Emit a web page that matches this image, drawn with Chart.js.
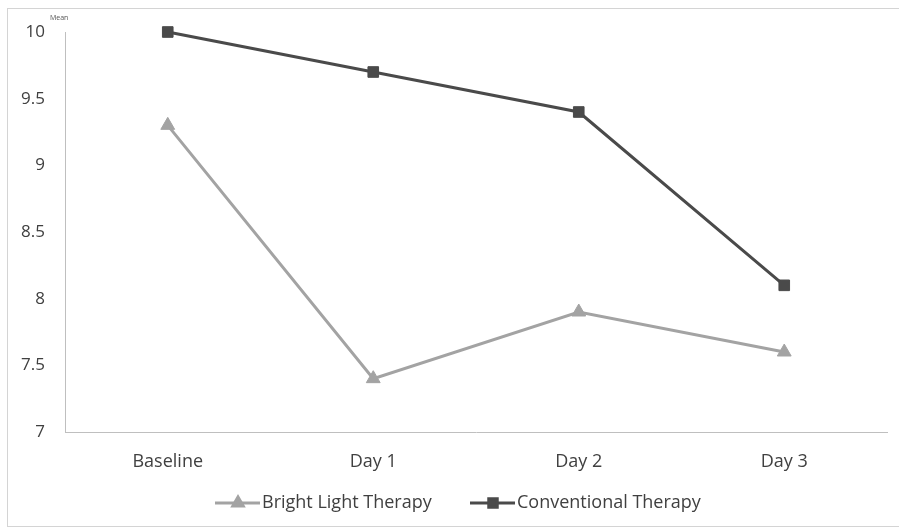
<!DOCTYPE html>
<html>
<head>
<meta charset="utf-8">
<script src="https://cdn.jsdelivr.net/npm/chart.js@4"></script>
<style>
  html, body { margin: 0; padding: 0; background: #fff; overflow: hidden; }
  #wrap { position: relative; width: 899px; height: 531px; overflow: hidden; }
  #frame { position: absolute; left: 7px; top: 8px; width: 900px; height: 519px; border: 1px solid #d4d4d4; box-sizing: border-box; pointer-events: none; }
</style>
</head>
<body>
<div id="wrap">
  <canvas id="chart" width="899" height="531"></canvas>
  <div id="frame"></div>
</div>
<script>
var categories = ['Baseline', 'Day 1', 'Day 2', 'Day 3'];
var brightLight = [9.3, 7.4, 7.9, 7.6];
var conventional = [10.0, 9.7, 9.4, 8.1];
var yTicks = [7, 7.5, 8, 8.5, 9, 9.5, 10];

var fontFamily = "'Open Sans', 'Liberation Sans', sans-serif";
var textColor = '#404040';

// legend drawn under the axis: short line with the marker in it, like the original
var bottomLegend = {
    id: 'bottomLegend',
    afterDraw: function (chart) {
        var ctx = chart.ctx;
        var items = [
            { x: 215, ds: chart.data.datasets[0] },
            { x: 470, ds: chart.data.datasets[1] }
        ];
        var y = 503;
        ctx.save();
        items.forEach(function (it) {
            ctx.strokeStyle = it.ds.borderColor;
            ctx.lineWidth = 3;
            ctx.beginPath();
            ctx.moveTo(it.x, y);
            ctx.lineTo(it.x + 45, y);
            ctx.stroke();
            ctx.fillStyle = it.ds.borderColor;
            Chart.helpers.drawPoint(ctx, {
                pointStyle: it.ds.pointStyle,
                radius: 6,
                borderWidth: 1
            }, it.x + 23, y);
            ctx.fillStyle = textColor;
            ctx.font = '18px ' + fontFamily;
            ctx.textBaseline = 'middle';
            ctx.fillText(it.ds.label, it.x + 47, y);
        });
        // small axis caption above the y axis
        ctx.font = '7px ' + fontFamily;
        ctx.fillStyle = '#555';
        ctx.fillText('Mean', 50, 18);
        ctx.restore();
    }
};

var ctx = document.getElementById('chart').getContext('2d');
var myChart = new Chart(ctx, {
    type: 'line',
    data: {
        labels: categories,
        datasets: [
            {
                label: 'Bright Light Therapy',
                data: brightLight,
                borderColor: '#a3a3a3',
                backgroundColor: '#a3a3a3',
                borderWidth: 3,
                pointStyle: 'triangle',
                pointRadius: 8,
                pointBorderWidth: 1,
                tension: 0,
                clip: false
            },
            {
                label: 'Conventional Therapy',
                data: conventional,
                borderColor: '#4a4a4a',
                backgroundColor: '#4a4a4a',
                borderWidth: 3,
                pointStyle: 'rect',
                pointRadius: 7.5,
                pointBorderWidth: 1,
                tension: 0,
                clip: false
            }
        ]
    },
    options: {
        responsive: false,
        animation: false,
        layout: {
            padding: { top: 32, right: 12, bottom: 0, left: 0 }
        },
        plugins: {
            legend: { display: false },
            tooltip: { enabled: false }
        },
        scales: {
            x: {
                offset: true,
                grid: { display: false, drawTicks: false },
                border: { display: true, color: '#bfbfbf', width: 1 },
                ticks: {
                    color: textColor,
                    padding: 19,
                    font: { family: fontFamily, size: 18 }
                },
                afterFit: function (scale) { scale.height = 99; }
            },
            y: {
                min: 7,
                max: 10,
                afterBuildTicks: function (scale) {
                    scale.ticks = yTicks.map(function (v) { return { value: v }; });
                },
                grid: { display: false, drawTicks: false },
                border: { display: true, color: '#bfbfbf', width: 1 },
                ticks: {
                    color: textColor,
                    padding: 20,
                    font: { family: fontFamily, size: 17 },
                    callback: function (value) { return String(value); }
                },
                afterFit: function (scale) { scale.width = 65; }
            }
        }
    },
    plugins: [bottomLegend]
});
</script>
</body>
</html>
